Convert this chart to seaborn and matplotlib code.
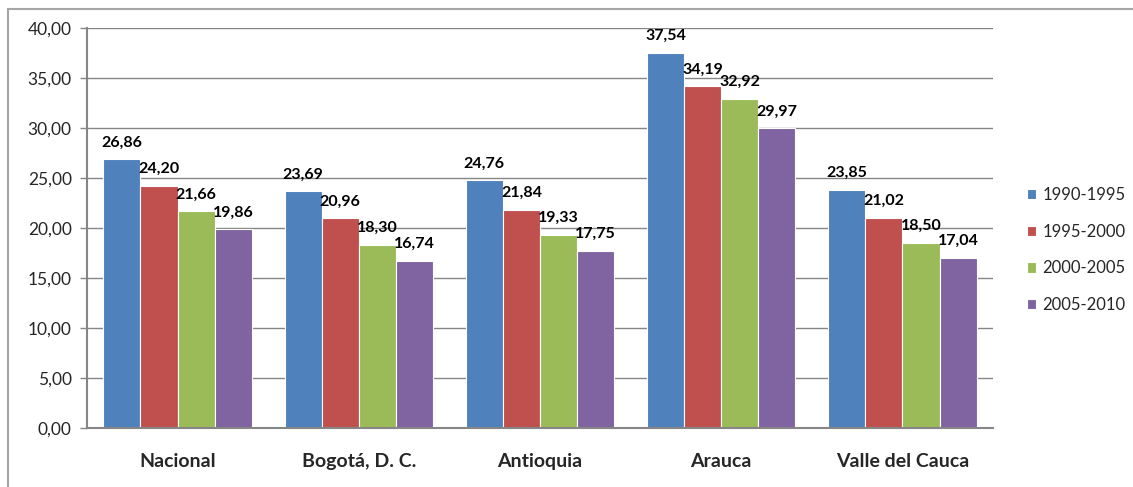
import matplotlib
matplotlib.use("Agg")
import matplotlib.pyplot as plt
from matplotlib.patches import Rectangle
import seaborn as sns
import pandas as pd

regions = ["Nacional", "Bogotá, D. C.", "Antioquia", "Arauca", "Valle del Cauca"]
periods = ["1990-1995", "1995-2000", "2000-2005", "2005-2010"]
v_1990_1995 = [26.86, 23.69, 24.76, 37.54, 23.85]
v_1995_2000 = [24.20, 20.96, 21.84, 34.19, 21.02]
v_2000_2005 = [21.66, 18.30, 19.33, 32.92, 18.50]
v_2005_2010 = [19.86, 16.74, 17.75, 29.97, 17.04]
colors = ["#4F81BD", "#C0504D", "#9BBB59", "#8064A2"]
y_ticks = [0, 5, 10, 15, 20, 25, 30, 35, 40]

series = [v_1990_1995, v_1995_2000, v_2000_2005, v_2005_2010]
df = pd.DataFrame(
    [(r, p, vals[i]) for p, vals in zip(periods, series) for i, r in enumerate(regions)],
    columns=["region", "period", "value"],
)

sns.set_style("white")
plt.rcParams["font.family"] = ["Lato", "DejaVu Sans"]

W, H, DPI = 1133, 487, 100
fig = plt.figure(figsize=(W / DPI, H / DPI), dpi=DPI)
ax = fig.add_axes([87 / W, 1 - 428 / H, (993 - 87) / W, (428 - 28) / H])

sns.barplot(
    data=df, x="region", y="value", hue="period", order=regions,
    hue_order=periods, palette=colors, width=0.82, saturation=1,
    edgecolor="white", linewidth=0.8, ax=ax, legend=True,
)

# value labels above each bar
for container in ax.containers:
    labels = [f"{b.get_height():.2f}".replace(".", ",") for b in container]
    ax.bar_label(container, labels=labels, padding=7, fontsize=11.5,
                 fontweight="bold", color="black")

ax.set_ylim(0, 40)
ax.set_yticks(y_ticks)
ax.set_yticklabels([f"{t:.2f}".replace(".", ",") for t in y_ticks], fontsize=12.5)
ax.yaxis.grid(True, color="#868686", linewidth=1)
ax.set_axisbelow(True)
ax.tick_params(axis="y", length=5, color="#868686", width=1, pad=6, left=True)
ax.tick_params(axis="x", length=0, pad=18)
for lbl in ax.get_xticklabels():
    lbl.set_fontweight("bold")
    lbl.set_fontsize(14)
ax.set_xlabel("")
ax.set_ylabel("")
for side in ["top", "right"]:
    ax.spines[side].set_visible(False)
for side in ["left", "bottom"]:
    ax.spines[side].set_color("#868686")
    ax.spines[side].set_linewidth(1.5)

leg = ax.legend(
    loc="center left", bbox_to_anchor=(1020 / W, 1 - 250 / H),
    bbox_transform=fig.transFigure, frameon=False, fontsize=12,
    handlelength=0.55, handleheight=0.55, handletextpad=0.4,
    labelspacing=1.25, borderaxespad=0,
)

# outer chart frame
fig.patches.append(Rectangle((8 / W, -0.1), 1.2, 1 - 9 / H + 0.1,
                             transform=fig.transFigure, fill=False,
                             edgecolor="#A6A6A6", linewidth=1.5))

fig.savefig("out.png", dpi=DPI)
